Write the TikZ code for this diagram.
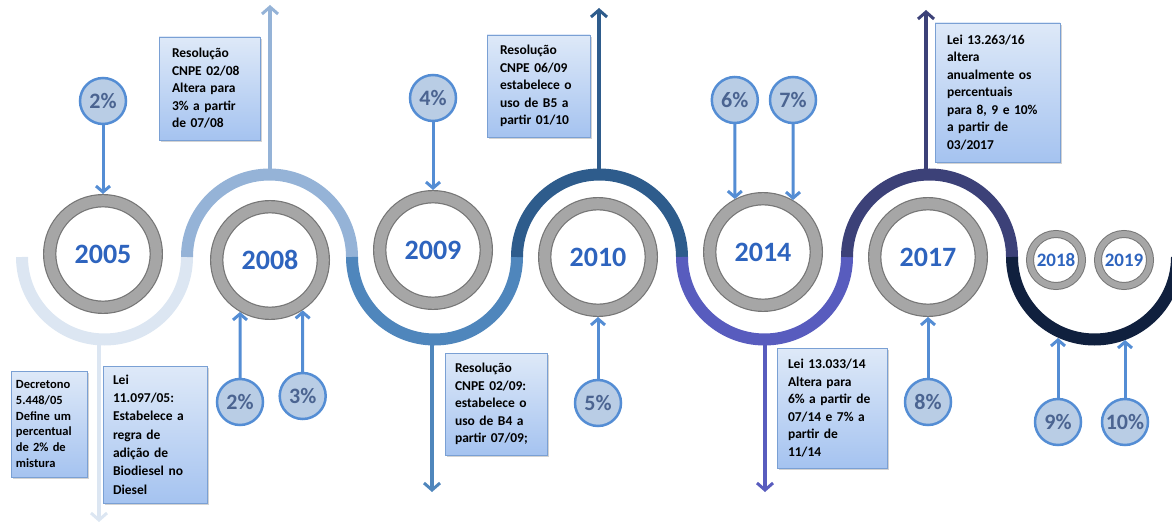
\documentclass[tikz,border=0pt]{standalone}
\usepackage{fontspec}
\setmainfont{Carlito}
\usetikzlibrary{arrows.meta}
\usetikzlibrary{shadows}
\usetikzlibrary{positioning}

\definecolor{segA}{RGB}{220,230,242}
\definecolor{segB}{RGB}{149,179,215}
\definecolor{segC}{RGB}{79,134,188}
\definecolor{segD}{RGB}{46,92,140}
\definecolor{segE}{RGB}{88,92,190}
\definecolor{segF}{RGB}{60,65,120}
\definecolor{segG}{RGB}{16,32,62}
\definecolor{ringgray}{RGB}{166,166,166}
\definecolor{ringedge}{RGB}{118,118,118}
\definecolor{yearblue}{RGB}{46,100,190}
\definecolor{pctfill}{RGB}{185,205,229}
\definecolor{pctline}{RGB}{84,141,212}
\definecolor{pcttext}{RGB}{75,100,145}
\definecolor{boxtop}{RGB}{222,233,248}
\definecolor{boxbot}{RGB}{165,195,240}
\definecolor{boxline}{RGB}{122,160,212}

\tikzset{
	year/.style={circle,draw=ringedge,line width=1.2pt,double=ringgray,double distance=11pt,minimum size=106.6pt,outer sep=6.7pt,inner sep=0pt,text=yearblue,font=\fontsize{28}{30}\selectfont\bfseries},
	smallyear/.style={year,line width=1pt,double distance=6pt,minimum size=52pt,outer sep=4pt,font=\fontsize{19}{20}\selectfont\bfseries},
	pct/.style={circle,draw=pctline,line width=2.5pt,fill=pctfill,minimum size=46pt,inner sep=0pt,outer sep=1.25pt,text=pcttext,font=\fontsize{22}{24}\selectfont\bfseries},
	pctarrow/.style={draw=pctline,line width=3pt,-{Straight Barb[length=6pt,width=14pt,line width=3pt]}},
	seg/.style={line width=12pt},
	segarrow/.style={line width=4pt,-{Straight Barb[length=7pt,width=16pt,line width=3pt]}},
	law/.style={draw=boxline,line width=0.8pt,top color=boxtop,bottom color=boxbot,drop shadow={opacity=0.35,shadow xshift=2pt,shadow yshift=-2pt},align=left,inner ysep=0pt,font=\fontsize{13.5}{17.5}\selectfont\bfseries}
}

\begin{document}
\begin{tikzpicture}[x=1pt,y=1pt]
	\useasboundingbox (0,0) rectangle (1172,528);

	\coordinate (s1) at (99,188.5);
	\coordinate (t1) at (99,6);
	\coordinate (s2) at (270,353.5);
	\coordinate (t2) at (270,523);
	\coordinate (s3) at (432,188.5);
	\coordinate (t3) at (432,36);
	\coordinate (s4) at (599,353.5);
	\coordinate (t4) at (599,520);
	\coordinate (s5) at (765,188.5);
	\coordinate (t5) at (765,36);
	\coordinate (s6) at (926,353.5);
	\coordinate (t6) at (926,518);

	\draw[segarrow,segA] (s1) -- (t1);
	\draw[segarrow,segB] (s2) -- (t2);
	\draw[segarrow,segC] (s3) -- (t3);
	\draw[segarrow,segD] (s4) -- (t4);
	\draw[segarrow,segE] (s5) -- (t5);
	\draw[segarrow,segF] (s6) -- (t6);

	\foreach \i/\c/\e in {0/segA/360,1/segB/0,2/segC/360,3/segD/0,4/segE/360,5/segF/0,6/segG/360}
		\draw[seg,draw=\c] ({104.5+165*\i-82.5},271) arc[start angle=180,end angle=\e,radius=82.5];

	\node[year] (y2005) at (103,274) {2005};
	\node[year] (y2008) at (270,268) {2008};
	\node[year] (y2009) at (433,278) {2009};
	\node[year] (y2010) at (598,271) {2010};
	\node[year] (y2014) at (763,276) {2014};
	\node[year] (y2017) at (928,271) {2017};
	\node[smallyear] (y2018) at (1056,268) {2018};
	\node[smallyear] (y2019) at (1124,268) {2019};

	\node[pct] (p2a) at (103,427) {2\%};
	\node[pct] (p2b) at (240,126) {2\%};
	\node[pct] (p3) at (302.7,132) {3\%};
	\node[pct] (p4) at (433,430) {4\%};
	\node[pct] (p5) at (598,125) {5\%};
	\node[pct] (p6) at (734.8,428) {6\%};
	\node[pct] (p7) at (793,428) {7\%};
	\node[pct] (p8) at (928,126) {8\%};
	\node[pct] (p9) at (1058,106) {9\%};
	\node[pct] (p10) at (1125,106) {10\%};
	\coordinate (a9) at (1058,190);
	\coordinate (a10) at (1125,188);

	\draw[pctarrow] (p2a) -- (y2005);
	\draw[pctarrow] (p2b) -- (y2008.240);
	\draw[pctarrow] (p3) -- (y2008.303);
	\draw[pctarrow] (p4) -- (y2009);
	\draw[pctarrow] (p5) -- (y2010);
	\draw[pctarrow] (p6) -- (y2014.118);
	\draw[pctarrow] (p7) -- (y2014.60);
	\draw[pctarrow] (p8) -- (y2017);
	\draw[pctarrow] (p9) -- (a9);
	\draw[pctarrow] (p10) -- (a10);

	\node[law,text width=66pt,inner xsep=5pt,minimum height=106pt,font=\fontsize{12.5}{15.7}\selectfont\bfseries] (law1) at (49,104) {Decretono\\5.448/05\\Define um\\percentual\\de 2\% de\\mistura};
	\node[law,text width=84pt,inner xsep=10pt,minimum height=137pt,font=\fontsize{13.5}{18.3}\selectfont\bfseries] (law2) at (155,93.5) {Lei\\11.097/05:\\Estabelece a\\regra de\\adição de\\Biodiesel no\\Diesel};
	\node[law,text width=75pt,inner xsep=13pt,minimum height=103pt] (law3) at (209.5,439.5) {Resolução\\CNPE 02/08\\Altera para\\3\% a partir\\de 07/08};
	\node[law,text width=82pt,inner xsep=10pt,minimum height=102pt] (law4) at (496,124) {Resolução\\CNPE 02/09:\\estabelece o\\uso de B4 a\\partir 07/09;};
	\node[law,text width=77pt,inner xsep=13pt,minimum height=102pt] (law5) at (538.5,442) {Resolução\\CNPE 06/09\\estabelece o\\uso de B5 a\\partir 01/10};
	\node[law,text width=88pt,inner xsep=11pt,minimum height=120pt] (law6) at (832,120) {Lei 13.033/14\\Altera para\\6\% a partir de\\07/14 e 7\% a\\partir de\\11/14};
	\node[law,text width=101pt,inner xsep=12pt,minimum height=139pt] (law7) at (997.5,435.5) {Lei 13.263/16\\altera\\anualmente os\\percentuais\\para 8, 9 e 10\%\\a partir de\\03/2017};
\end{tikzpicture}
\end{document}
